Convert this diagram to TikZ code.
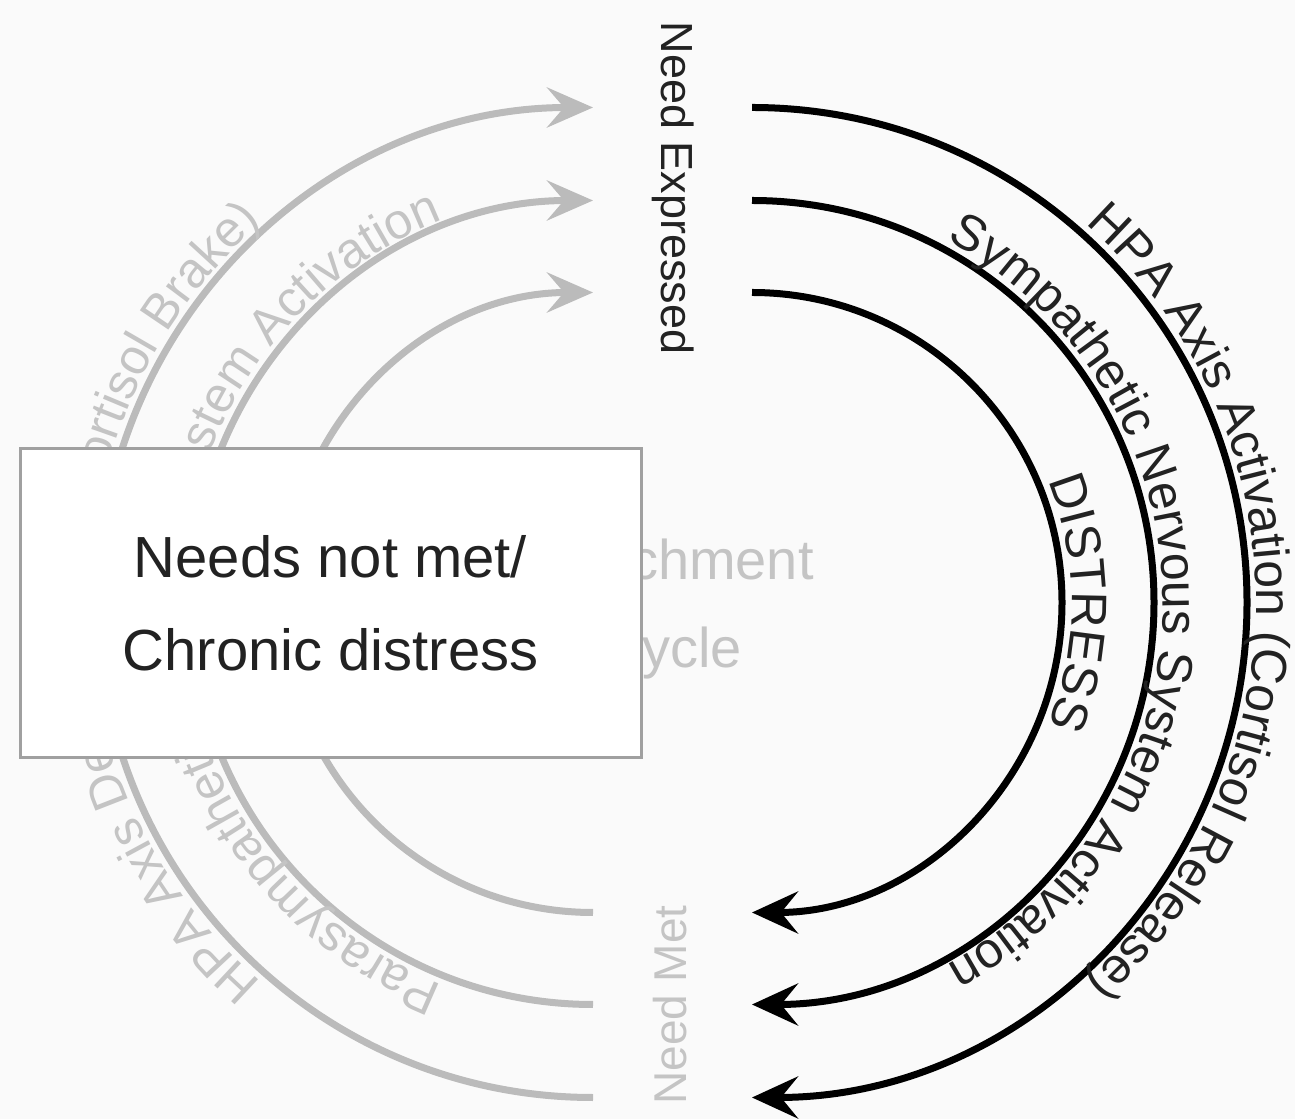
\documentclass[tikz,border=0pt]{standalone}
\usepackage{fontspec}
\setmainfont{Liberation Sans}
\usetikzlibrary{arrows.meta,decorations.text}
\definecolor{bgc}{HTML}{FAFAFA}
\definecolor{arcgray}{HTML}{BBBBBB}
\definecolor{txtgray}{HTML}{C4C4C4}
\definecolor{boxborder}{HTML}{A0A0A0}
\definecolor{boxtext}{HTML}{222222}
\newcommand\arcfont{\fontsize{50}{60}\selectfont}
\begin{document}
\begin{tikzpicture}[x=1pt,y=1pt,
  darc/.style={line width=7pt, black, -{Stealth[length=46pt,width=42pt,inset=17pt]}},
  garc/.style={line width=7pt, arcgray, -{Stealth[length=46pt,width=40pt,inset=17pt]}},
  arctext/.style={decorate, decoration={text along path, text align=center, text={#1}}},
  arctextl/.style={decorate, decoration={text along path, text align=left, text={#1}}},
  boxnode/.style={draw=boxborder, line width=3pt, fill=white, minimum width=621pt, minimum height=309pt, align=center, text=boxtext, font=\fontsize{58}{93}\selectfont},
]
\fill[bgc] (0,0) rectangle (1295,1119);
\useasboundingbox (0,0) rectangle (1295,1119);

% centres and end points
\coordinate (cl) at (593,516.5);
\coordinate (cr) at (752,516.5);
\coordinate (ro1) at (752,1011.5);
\coordinate (ro2) at (752,918.5);
\coordinate (ro3) at (752,826.5);
\coordinate (lb1) at (593,21.5);
\coordinate (lb2) at (593,114.5);
\coordinate (lb3) at (593,206.5);

% gray (left) arcs
\draw[garc] (lb1) arc[start angle=270, end angle=90, radius=495pt];
\draw[garc] (lb2) arc[start angle=270, end angle=90, radius=402pt];
\draw[garc] (lb3) arc[start angle=270, end angle=90, radius=310pt];

% visible parts of the gray arc labels
\path[arctextl={|\arcfont\color{txtgray}|HPA Axis De}]
  ([shift={(cl)}]228.96:504) arc[start angle=228.96, end angle=90, radius=504pt];
\path[arctextl={|\arcfont\color{txtgray}|ortisol Brake)}]
  ([shift={(cl)}]164.50:504) arc[start angle=164.50, end angle=60, radius=504pt];
\path[arctextl={|\arcfont\color{txtgray}|Parasympathetic}]
  ([shift={(cl)}]248.56:411) arc[start angle=248.56, end angle=90, radius=411pt];
\path[arctextl={|\arcfont\color{txtgray}|stem Activation}]
  ([shift={(cl)}]158.69:411) arc[start angle=158.69, end angle=40, radius=411pt];

% center text
\node[align=center, text=txtgray, font=\fontsize{56}{88}\selectfont] (cyc) at (672,510) {Attachment\\Cycle};

% box
\node[boxnode] (box) at (330.5,516) {Needs not met/\\Chronic distress};

% black (right) arcs
\draw[darc] (ro1) arc[start angle=90, end angle=-90, radius=495pt];
\draw[darc] (ro2) arc[start angle=90, end angle=-90, radius=402pt];
\draw[darc] (ro3) arc[start angle=90, end angle=-90, radius=310pt];

\path[arctext={|\arcfont\color{boxtext}|HPA Axis Activation (Cortisol Release)}]
  (752,1020.5) arc[start angle=90, end angle=-90, radius=504pt];
\path[arctext={|\arcfont\color{boxtext}|Sympathetic Nervous System Activation}]
  (752,927.5) arc[start angle=90, end angle=-90, radius=411pt];
\path[arctext={|\arcfont\color{boxtext}|DISTRESS}]
  (752,836.5) arc[start angle=90, end angle=-90, radius=320pt];

% labels
\node[rotate=-90, text=boxtext, font=\fontsize{45}{50}\selectfont] (needexp) at (673,931) {Need Expressed};
\node[rotate=90, text=txtgray, font=\fontsize{46}{50}\selectfont] (needmet) at (670,114) {Need Met};
\end{tikzpicture}
\end{document}
